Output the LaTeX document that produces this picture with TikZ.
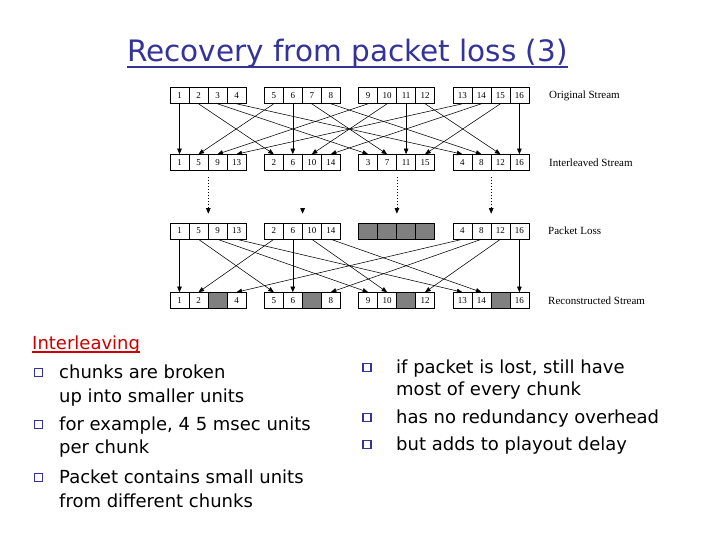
\documentclass[tikz,border=0pt]{standalone}
\usepackage{fontspec}
\setmainfont{Liberation Serif}
\newfontfamily\comic{DejaVu Sans}
\usetikzlibrary{arrows.meta}
\definecolor{titleblue}{RGB}{51,51,153}
\definecolor{ilred}{RGB}{204,0,0}
\tikzset{
 cell/.style={draw, line width=0.6pt, minimum width=19pt, minimum height=16pt, inner sep=0pt, font=\fontsize{9}{9}\selectfont},
 lost/.style={cell, fill=black!50},
 arr/.style={line width=0.55pt, -{Triangle[length=5.5pt,width=4.5pt]}},
 darr/.style={line width=0.7pt, dash pattern=on 0.7pt off 2.3pt, -{Triangle[length=5.5pt,width=4.5pt]}},
 lbl/.style={anchor=west, inner sep=0pt, font=\fontsize{11}{11}\selectfont},
 body/.style={anchor=base west, inner sep=0pt, font=\comic\fontsize{18}{18}\selectfont},
 bul/.style={draw=titleblue, line width=1.2pt, minimum size=8pt, inner sep=0pt},
}
\begin{document}
\begin{tikzpicture}[x=1pt,y=-1pt]
\useasboundingbox[fill=white] (0,0) rectangle (720,540);
% title
\node[anchor=base west, inner sep=0pt, text=titleblue, font=\comic\fontsize{29.5}{29.5}\selectfont] (title) at (127,62) {Recovery from packet loss (3)};
\draw[titleblue, line width=1.5pt] ([yshift=-5pt]title.base west) -- ([yshift=-5pt]title.base east);
% cells
\foreach \n in {1,...,16}{
  \pgfmathtruncatemacro{\grp}{(\n-1)/4}
  \pgfmathtruncatemacro{\pos}{mod(\n-1,4)}
  \pgfmathsetmacro{\xa}{179.5+94.3*\grp+19*\pos}
  \pgfmathsetmacro{\xb}{179.5+94.3*\pos+19*\grp}
  \node[cell] (o\n) at (\xa,95.5) {\n};
  \node[cell] (i\n) at (\xb,162.5) {\n};
  \ifnum\pos=2
    \node[lost] (p\n) at (\xb,231) {};
    \node[lost] (q\n) at (\xa,300.5) {};
  \else
    \node[cell] (p\n) at (\xb,231) {\n};
    \node[cell] (q\n) at (\xa,300.5) {\n};
  \fi
}
% arrows
\foreach \n in {1,...,16}{
  \draw[arr] (o\n.south) -- (i\n.north);
  \pgfmathtruncatemacro{\pos}{mod(\n-1,4)}
  \ifnum\pos=2 \else \draw[arr] (p\n.south) -- (q\n.north); \fi
}
% dotted arrows
\foreach \m in {5,7,8}{
  \draw[darr] ([yshift=-6pt]i\m.south east) -- ([yshift=9pt]p\m.north east);
}
\draw[darr] ([yshift=13pt]p6.north east) -- ([yshift=9pt]p6.north east);
% stream labels
\node[lbl] (l1) at (549,95.5) {Original Stream};
\node[lbl] (l2) at (549,162.5) {Interleaved Stream};
\node[lbl] (l3) at (548,231) {Packet Loss};
\node[lbl] (l4) at (548,300.5) {Reconstructed Stream};
% left text
\node[body, text=ilred] (il) at (32,349) {Interleaving};
\draw[ilred, line width=1.2pt] ([yshift=-3pt]il.base west) -- ([yshift=-3pt]il.base east);
\node[bul] (b1) at (38.5,372.5) {};
\node[body] (t1) at (59,378) {chunks are broken};
\node[body] (t2) at (59,402) {up into smaller units};
\node[bul] (b2) at (38.5,424.5) {};
\node[body] (t3) at (59,430) {for example, 4 5 msec units};
\node[body] (t4) at (59,453) {per chunk};
\node[bul] (b3) at (38.5,477.5) {};
\node[body] (t5) at (59,483) {Packet contains small units};
\node[body] (t6) at (59,507) {from different chunks};
% right text
\node[bul] (b4) at (367,367.5) {};
\node[body] (r1) at (396,373) {if packet is lost, still have};
\node[body] (r2) at (396,395) {most of every chunk};
\node[bul] (b5) at (367,417.5) {};
\node[body] (r3) at (396,423) {has no redundancy overhead};
\node[bul] (b6) at (367,444.5) {};
\node[body] (r4) at (396,450) {but adds to playout delay};
\end{tikzpicture}
\end{document}
